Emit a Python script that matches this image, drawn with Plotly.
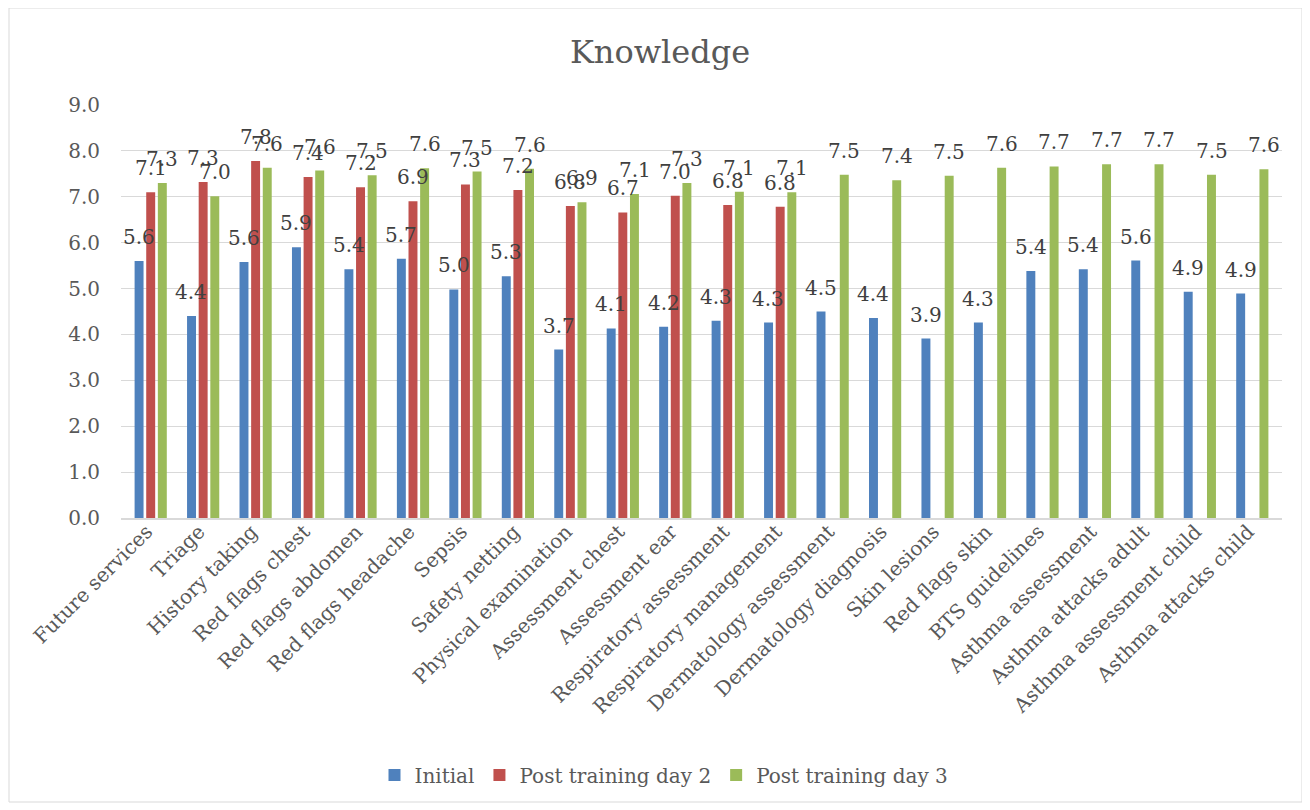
import plotly.graph_objects as go

categories = ["Future services", "Triage", "History taking", "Red flags chest", "Red flags abdomen",
              "Red flags headache", "Sepsis", "Safety netting", "Physical examination",
              "Assessment chest", "Assessment ear", "Respiratory assessment",
              "Respiratory management", "Dermatology assessment", "Dermatology diagnosis",
              "Skin lesions", "Red flags skin", "BTS guidelines", "Asthma assessment",
              "Asthma attacks adult", "Asthma assessment child", "Asthma attacks child"]

initial = [5.60, 4.40, 5.58, 5.90, 5.42, 5.65, 4.98, 5.27, 3.67, 4.13, 4.17, 4.30, 4.26,
           4.50, 4.36, 3.91, 4.26, 5.38, 5.42, 5.61, 4.93, 4.89]
day2 = [7.10, 7.32, 7.78, 7.43, 7.21, 6.90, 7.27, 7.15, 6.80, 6.66, 7.02, 6.82, 6.78,
        None, None, None, None, None, None, None, None, None]
day3 = [7.30, 7.01, 7.63, 7.57, 7.47, 7.62, 7.55, 7.61, 6.88, 7.06, 7.30, 7.11, 7.10,
        7.48, 7.36, 7.46, 7.63, 7.66, 7.71, 7.71, 7.48, 7.60]

series_names = ["Initial", "Post training day 2", "Post training day 3"]
series_values = [initial, day2, day3]
series_colors = ["#4f81bd", "#c0504d", "#9bbb59"]

FONT = "DejaVu Serif"
fig = go.Figure()
for name, vals, col in zip(series_names, series_values, series_colors):
    fig.add_trace(go.Bar(x=categories, y=vals, name=name, marker=dict(color=col, line=dict(width=0))))

# data labels as annotations above each bar
slot_px = 11.7
annotations = []
for si, vals in enumerate(series_values):
    for c, v in zip(categories, vals):
        if v is None:
            continue
        annotations.append(dict(x=c, y=v, text=f"{v:.1f}", showarrow=False,
                                xshift=(si - 1) * slot_px, yshift=24, yanchor="middle",
                                font=dict(family=FONT, size=20, color="#404040")))

# page body has an 8px margin, so the figure starts at (8, 8) of the window
OFF = 8
W, H = 1310 - OFF, 810 - OFF
L, T = 121 - OFF, 105 - OFF
R = W - (1282 - OFF)
B = H - (518 - OFF)
pw, ph = W - L - R, H - T - B
def px_x(p):
    return (p - OFF - L) / pw
def px_y(p):
    return (H - B - (p - OFF)) / ph

fig.update_layout(
    width=W, height=H,
    margin=dict(l=L, r=R, t=T, b=B, autoexpand=False),
    paper_bgcolor="white", plot_bgcolor="white",
    barmode="group", bargap=0.335, bargroupgap=0.23,
    title=dict(text="Knowledge", x=(660 - OFF) / W, xanchor="center", y=1 - (52 - OFF) / H,
               yanchor="middle", font=dict(family=FONT, size=32, color="#595959")),
    font=dict(family=FONT, size=20, color="#595959"),
    showlegend=True,
    legend=dict(orientation="h", x=px_x(664), xanchor="center", y=px_y(775), yanchor="middle",
                font=dict(family=FONT, size=20, color="#595959")),
    annotations=annotations,
    shapes=[dict(type="rect", xref="paper", yref="paper",
                 x0=px_x(9), x1=px_x(1302), y0=px_y(802), y1=px_y(8),
                 line=dict(color="#d9d9d9", width=1), fillcolor="rgba(0,0,0,0)", layer="below")],
)
fig.update_yaxes(range=[0, 9], dtick=1, tickformat=".1f", showgrid=True, gridcolor="#d9d9d9",
                 gridwidth=1, zeroline=False, showline=False, ticks="", automargin=False,
                 tickfont=dict(family=FONT, size=20, color="#595959"), ticklabelstandoff=20)
fig.update_xaxes(tickangle=-45, showline=True, linecolor="#d9d9d9", linewidth=2, ticks="",
                 automargin=False, ticklabelstandoff=-8, ticklabelshift=-4,
                 tickfont=dict(family=FONT, size=20, color="#595959"))

fig.write_html("out.html")
